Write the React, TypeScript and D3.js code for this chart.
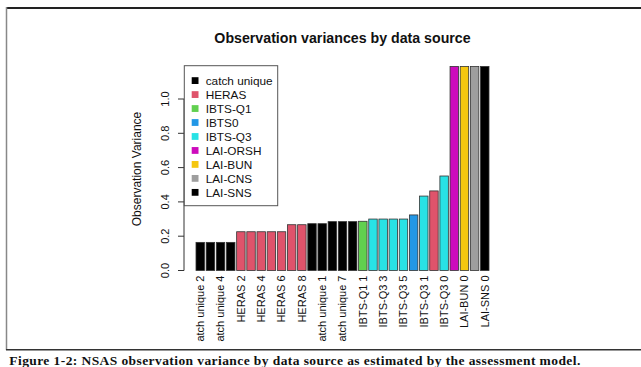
import { useEffect, useRef } from "react";
import * as d3 from "d3";

// bars, sorted by estimated variance
const barLabels = [
  "catch unique 2", "catch unique 3", "catch unique 4", "catch unique 5",
  "HERAS 2", "HERAS 3", "HERAS 4", "HERAS 5", "HERAS 6", "HERAS 7", "HERAS 8",
  "catch unique 0", "catch unique 1", "catch unique 6", "catch unique 7", "catch unique 8",
  "IBTS-Q1 1", "IBTS-Q3 2", "IBTS-Q3 3", "IBTS-Q3 4", "IBTS-Q3 5", "IBTS0 1",
  "IBTS-Q3 1", "HERAS 1", "IBTS-Q3 0",
  "LAI-ORSH 0", "LAI-BUN 0", "LAI-CNS 0", "LAI-SNS 0",
];
const barSources = [
  "catch unique", "catch unique", "catch unique", "catch unique",
  "HERAS", "HERAS", "HERAS", "HERAS", "HERAS", "HERAS", "HERAS",
  "catch unique", "catch unique", "catch unique", "catch unique", "catch unique",
  "IBTS-Q1", "IBTS-Q3", "IBTS-Q3", "IBTS-Q3", "IBTS-Q3", "IBTS0",
  "IBTS-Q3", "HERAS", "IBTS-Q3",
  "LAI-ORSH", "LAI-BUN", "LAI-CNS", "LAI-SNS",
];
const barValues = [
  0.164, 0.164, 0.164, 0.164,
  0.226, 0.226, 0.226, 0.226, 0.226, 0.267, 0.267,
  0.273, 0.273, 0.285, 0.285, 0.285,
  0.287, 0.3, 0.3, 0.3, 0.3, 0.324,
  0.434, 0.464, 0.551,
  1.19, 1.19, 1.19, 1.19,
];

const sources = [
  "catch unique", "HERAS", "IBTS-Q1", "IBTS0", "IBTS-Q3",
  "LAI-ORSH", "LAI-BUN", "LAI-CNS", "LAI-SNS",
];
const sourceColors = [
  "#000000", "#DF536B", "#61D04F", "#2297E6", "#28E2E5",
  "#CD0BBC", "#F5C710", "#9E9E9E", "#000000",
];
const yTicks = [0, 0.2, 0.4, 0.6, 0.8, 1.0];

const W = 641;
const H = 367;
const SANS = "Liberation Sans, Arial, sans-serif";

export default function App() {
  const ref = useRef<SVGSVGElement>(null);

  useEffect(() => {
    if (!ref.current) return;
    const svg = d3.select(ref.current);
    svg.selectAll("*").remove();

    const x = d3.scaleBand<string>().domain(barLabels).range([196, 489]).paddingInner(1 / 6).paddingOuter(0);
    const y = d3.scaleLinear().domain([0, 1]).range([270.5, 99]);
    const color = d3.scaleOrdinal<string, string>().domain(sources).range(sourceColors);

    svg.append("rect").attr("width", W).attr("height", H).attr("fill", "#fff");

    // page frame
    svg.append("line").attr("x1", 6).attr("x2", W).attr("y1", 8).attr("y2", 8)
      .attr("stroke", "#222").attr("stroke-width", 2);
    svg.append("line").attr("x1", 6.5).attr("x2", 6.5).attr("y1", 7).attr("y2", 350)
      .attr("stroke", "#888").attr("stroke-width", 1.5);
    svg.append("line").attr("x1", 6).attr("x2", W).attr("y1", 349.8).attr("y2", 349.8)
      .attr("stroke", "#333").attr("stroke-width", 1.5);

    // the pasted plot image is cut off just above the frame's bottom line
    svg.append("defs").append("clipPath").attr("id", "fig-clip")
      .append("rect").attr("x", 8).attr("y", 10).attr("width", W - 8).attr("height", 331.5);

    const g = svg.append("g").attr("clip-path", "url(#fig-clip)");

    // title
    g.append("text")
      .attr("x", 342.5).attr("y", 42.7)
      .attr("text-anchor", "middle")
      .attr("font-family", SANS).attr("font-size", "14.2px").attr("font-weight", "bold")
      .attr("fill", "#111")
      .text("Observation variances by data source");

    // bars
    g.selectAll("rect.bar")
      .data(barLabels)
      .join("rect")
      .attr("class", "bar")
      .attr("x", (d) => x(d)!)
      .attr("width", x.bandwidth())
      .attr("y", (_, i) => y(barValues[i]))
      .attr("height", (_, i) => y(0) - y(barValues[i]))
      .attr("fill", (_, i) => color(barSources[i]))
      .attr("stroke", "#333")
      .attr("stroke-width", 0.8);

    // bar labels, every other one like R drops overlapping names
    g.selectAll("text.xlab")
      .data(barLabels.filter((_, i) => i % 2 === 0))
      .join("text")
      .attr("class", "xlab")
      .attr("transform", (d) => `translate(${x(d)! + x.bandwidth() / 2},275.5) rotate(-90)`)
      .attr("dy", "0.35em")
      .attr("text-anchor", "end")
      .attr("font-family", SANS).attr("font-size", "11px")
      .attr("fill", "#111")
      .text((d) => d);

    // y axis
    const axisX = 184;
    g.append("line").attr("x1", axisX).attr("x2", axisX).attr("y1", y(0)).attr("y2", y(1))
      .attr("stroke", "#333").attr("stroke-width", 1);
    g.selectAll("line.tick")
      .data(yTicks)
      .join("line")
      .attr("class", "tick")
      .attr("x1", axisX - 6).attr("x2", axisX)
      .attr("y1", (d) => y(d)).attr("y2", (d) => y(d))
      .attr("stroke", "#333").attr("stroke-width", 1);
    g.selectAll("text.ytick")
      .data(yTicks)
      .join("text")
      .attr("class", "ytick")
      .attr("transform", (d) => `translate(168.5,${y(d)}) rotate(-90)`)
      .attr("text-anchor", "middle")
      .attr("font-family", SANS).attr("font-size", "11px")
      .attr("fill", "#111")
      .text((d) => d3.format(".1f")(d));

    g.append("text")
      .attr("transform", "translate(140.7,169) rotate(-90)")
      .attr("text-anchor", "middle")
      .attr("font-family", SANS).attr("font-size", "12px")
      .attr("fill", "#111")
      .text("Observation Variance");

    // legend
    const leg = g.append("g");
    leg.append("rect")
      .attr("x", 184.3).attr("y", 65.7).attr("width", 93.4).attr("height", 140)
      .attr("fill", "#fff").attr("stroke", "#555").attr("stroke-width", 1);
    sources.forEach((s, i) => {
      const cy = 80.6 + i * 13.97;
      leg.append("rect")
        .attr("x", 191.7).attr("y", cy - 3.4).attr("width", 6.8).attr("height", 6.8)
        .attr("fill", sourceColors[i]);
      leg.append("text")
        .attr("x", 205.7).attr("y", cy).attr("dy", "0.36em")
        .attr("font-family", SANS).attr("font-size", "11.8px")
        .attr("fill", "#111")
        .text(s);
    });

    // caption below frame
    svg.append("text")
      .attr("x", 9.3).attr("y", 364.8)
      .attr("font-family", "Liberation Serif, Times New Roman, serif")
      .attr("font-size", "13.5px").attr("font-weight", "bold")
      .attr("textLength", 571).attr("lengthAdjust", "spacing")
      .attr("fill", "#111")
      .text("Figure 1-2: NSAS observation variance by data source as estimated by the assessment model.");
  }, []);

  return (
    <svg
      ref={ref}
      width={W}
      height={H}
      style={{ position: "absolute", left: 0, top: 0, display: "block" }}
    />
  );
}
